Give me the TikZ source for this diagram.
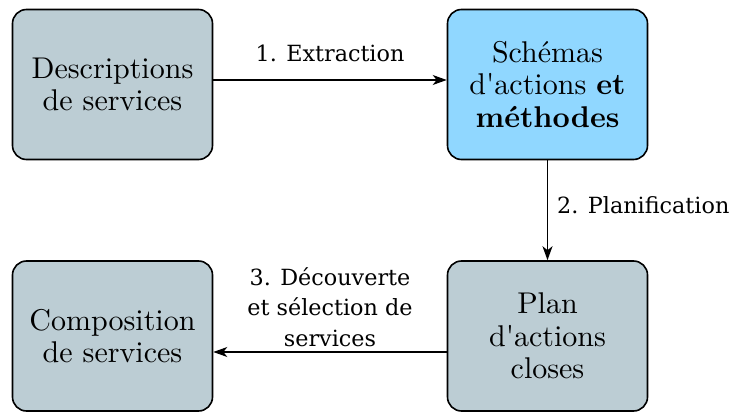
\documentclass[tikz,border=0pt]{standalone}
\usepackage{fontspec}
% design size 10 cuts, scaled up, for the box texts
\setmainfont{lmroman10}[Extension=.otf, UprightFont=*-regular, BoldFont=*-bold,
  ItalicFont=*-italic, BoldItalicFont=*-bolditalic]
\newfontfamily\labelfont{DejaVu Serif}
\usetikzlibrary{arrows.meta}
\definecolor{boxgrey}{RGB}{188,205,212}
\definecolor{boxblue}{RGB}{144,215,255}
\tikzset{
  stagebox/.style={draw=black, line width=1.6pt, rounded corners=14pt,
    minimum width=200pt, minimum height=150pt, align=center, inner sep=0pt,
    font=\fontsize{30}{32.5}\selectfont, fill=boxgrey},
  flow/.style={line width=1.4pt, -{Stealth[length=14pt,width=10pt,inset=4pt]}},
  steplabel/.style={font=\labelfont\fontsize{22.3}{30.5}\selectfont, inner sep=0pt, align=center}
}
\begin{document}
\begin{tikzpicture}[x=1pt,y=-1pt]
  \clip (0,0) rectangle (731,412);
  \fill[white] (0,0) rectangle (731,412);
  \node[stagebox] (desc) at (112.5,84.5) {Descriptions\\de services};
  \node[stagebox, fill=boxblue] (schema) at (547.5,84.5)
    {Schémas\\d\textquotesingle actions \textbf{et}\\\textbf{méthodes}};
  \node[stagebox] (plan) at (547.5,336) {Plan\\d\textquotesingle actions\\closes};
  \node[stagebox] (compo) at (112.5,336) {Composition\\de services};

  \draw[flow] (desc.east |- 0,80) -- (schema.west |- 0,80)
    node[steplabel, midway, anchor=base, yshift=18pt] {1. Extraction};
  \draw[flow] (schema.south) -- (plan.north)
    node[steplabel, midway, anchor=west, xshift=9pt, yshift=5pt] {2. Planification};
  \draw[flow] (plan.west |- 0,352) -- (compo.east |- 0,352)
    node[steplabel, midway, anchor=south, yshift=4.5pt] {3. Découverte\\et sélection de\\services};
\end{tikzpicture}
\end{document}
